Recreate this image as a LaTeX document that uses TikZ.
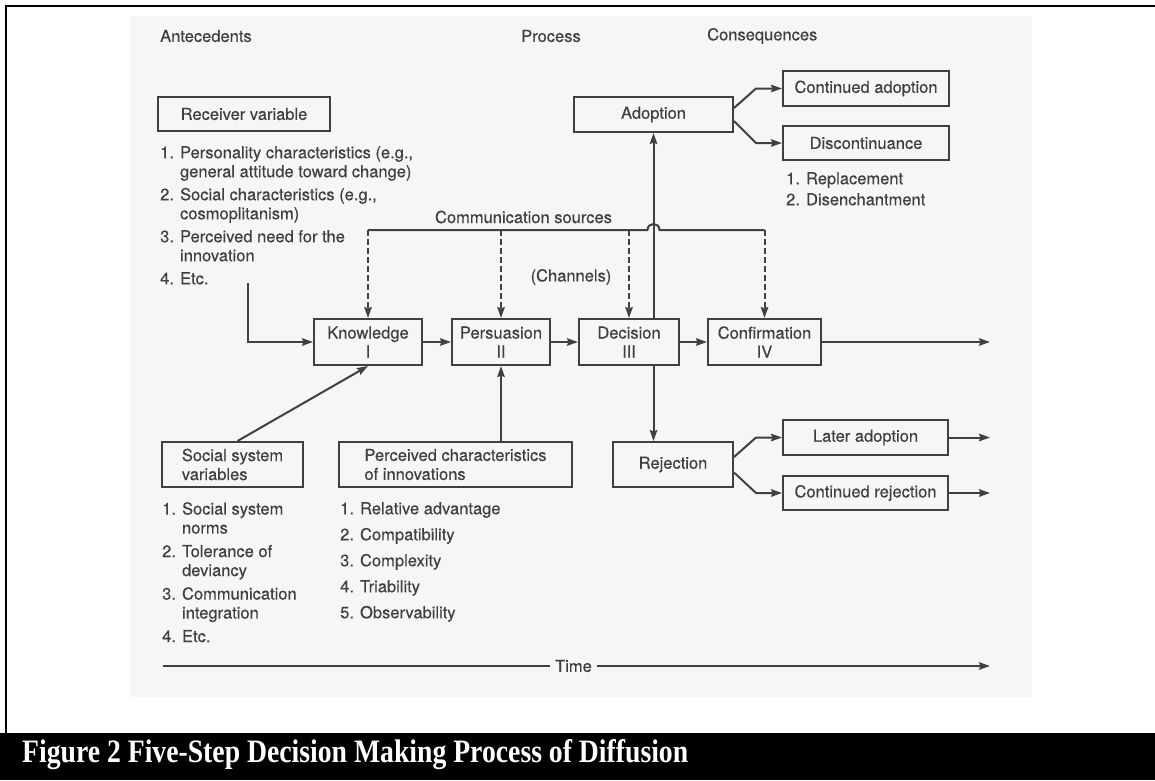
\documentclass[tikz,border=0pt]{standalone}
\usepackage{fontspec}
\setsansfont{TeX Gyre Heros}[FakeBold=0.35]
\newfontfamily\captionfont{Liberation Serif}
\usetikzlibrary{arrows.meta}
\definecolor{ink}{HTML}{404040}
\definecolor{scan}{HTML}{F6F6F6}

\begin{document}
\begin{tikzpicture}[x=1pt, y=-1pt,
    font=\sffamily\fontsize{16.5}{19}\selectfont, text=ink,
    box/.style={rectangle, draw=ink, line width=2pt, align=center, inner sep=2pt},
    listtext/.style={anchor=north west, align=left, inner sep=0pt},
    head/.style={anchor=west, inner sep=0pt},
    plain/.style={draw=ink, line width=2pt},
    arrow/.style={plain, -{Stealth[length=11pt, width=7.5pt, inset=1.5pt]}},
    dasharrow/.style={arrow, dash pattern=on 6pt off 3pt},
  ]
  \useasboundingbox (0,0) rectangle (1155,780);
  % page frame, scan and caption bar
  \fill[scan] (130,16) rectangle (1032,697);
  \draw[black, line width=2.5pt] (1155,6) -- (6,6) -- (6,733);
  \fill[black] (0,733) rectangle (1155,780);
  \node[anchor=base west, inner sep=0pt, text=white,
    font=\captionfont\bfseries\fontsize{27.7}{30}\selectfont] (caption) at (22,762)
    {\scalebox{1}[1.18]{Figure 2 Five-Step Decision Making Process of Diffusion}};

  % column heads
  \node[head] (hant)  at (160,36) {Antecedents};
  \node[head] (hproc) at (521,36) {Process};
  \node[head] (hcons) at (707,36) {Consequences};

  % antecedents
  \node[box, minimum width=172, minimum height=34] (recv) at (244,114) {Receiver variable};
  \node[listtext] (recvlist) at (160,146)
    {1. Personality characteristics (e.g.,\\
     \hphantom{1. }general attitude toward change)\\[4pt]
     2. Social characteristics (e.g.,\\
     \hphantom{2. }cosmoplitanism)\\[4pt]
     3. Perceived need for the\\
     \hphantom{3. }innovation\\[4pt]
     4. Etc.};

  \node[box, align=left, minimum width=141, minimum height=45] (social) at (232.5,464.5)
    {Social system\\variables};
  \node[listtext] (sociallist) at (162,502)
    {1. Social system\\
     \hphantom{1. }norms\\[4.5pt]
     2. Tolerance of\\
     \hphantom{2. }deviancy\\[4.5pt]
     3. Communication\\
     \hphantom{3. }integration\\[4.5pt]
     4. Etc.};

  \node[box, align=left, minimum width=233, minimum height=45] (perc) at (455.5,464.5)
    {Perceived characteristics\\of innovations};
  \node[listtext] (perclist) at (340,502)
    {1. Relative advantage\\[7pt]
     2. Compatibility\\[7pt]
     3. Complexity\\[7pt]
     4. Triability\\[7pt]
     5. Observability};

  % process
  \node[box, minimum width=108, minimum height=46] (know) at (368,342)   {Knowledge\\I};
  \node[box, minimum width=98,  minimum height=46] (pers) at (501,342)   {Persuasion\\II};
  \node[box, minimum width=100, minimum height=46] (deci) at (629,342)   {Decision\\III};
  \node[box, minimum width=113, minimum height=46] (conf) at (764.5,342) {Confirmation\\IV};

  \node (commtext) at (523.5,217) {Communication sources};
  \node (chan)     at (571,277)   {(Channels)};

  % consequences
  \node[box, minimum width=159, minimum height=35] (adopt)   at (653.5,114.5) {Adoption};
  \node[box, minimum width=166, minimum height=35] (contad)  at (866,88.5)    {Continued adoption};
  \node[box, minimum width=166, minimum height=34] (discont) at (866,143)     {Discontinuance};
  \node[listtext] (disclist) at (786,172)
    {1. Replacement\\[2pt]
     2. Disenchantment};

  \node[box, minimum width=120, minimum height=45] (reject)  at (673,464.5)   {Rejection};
  \node[box, minimum width=165, minimum height=35] (later)   at (865.5,437.5) {Later adoption};
  \node[box, minimum width=165, minimum height=34] (contrej) at (865.5,493)   {Continued rejection};

  \node[inner xsep=5pt] (time) at (573.5,666) {Time};

  \coordinate (commy)     at (0,230);
  \coordinate (hop)       at (adopt.south |- commy);
  \coordinate (recvstart) at (248,283);
  \coordinate (timestart) at (163,666);
  \coordinate (rightend)  at (990,0);

  % communication sources
  \draw[plain] (know.north |- commy) -- ([xshift=-6pt]hop)
    .. controls +(0,-8) and +(0,-8) .. ([xshift=6pt]hop) -- (conf.north |- commy);
  \foreach \n in {know, pers, deci, conf}
    \draw[dasharrow] (\n.north |- commy) -- (\n.north);

  % main flow
  \draw[arrow] (recvstart) |- (know.west);
  \draw[arrow] ([xshift=5pt]social.north) -- (know.south);
  \draw[arrow] (perc.north -| pers.south) -- (pers.south);
  \draw[arrow] (know) -- (pers);
  \draw[arrow] (pers) -- (deci);
  \draw[arrow] (deci) -- (conf);
  \draw[arrow] (conf) -- (conf -| rightend);

  \draw[arrow] (deci.north -| adopt.south) -- (adopt.south);
  \draw[arrow] (deci.south -| adopt.south) -- (reject.north -| adopt.south);

  \draw[arrow] ([yshift=6.5pt]adopt.east) -- ([xshift=-26pt]contad.west) -- (contad.west);
  \draw[arrow] ([yshift=-6.5pt]adopt.east) -- ([xshift=-26pt]discont.west) -- (discont.west);
  \draw[arrow] ([yshift=7.5pt]reject.east) -- ([xshift=-26pt]later.west) -- (later.west);
  \draw[arrow] ([yshift=-8pt]reject.east) -- ([xshift=-26pt]contrej.west) -- (contrej.west);
  \draw[arrow] (later) -- (later -| rightend);
  \draw[arrow] (contrej) -- (contrej -| rightend);

  % time axis
  \draw[plain] (timestart) -- (time.west);
  \draw[arrow] (time.east) -- (time.east -| rightend);
\end{tikzpicture}
\end{document}
